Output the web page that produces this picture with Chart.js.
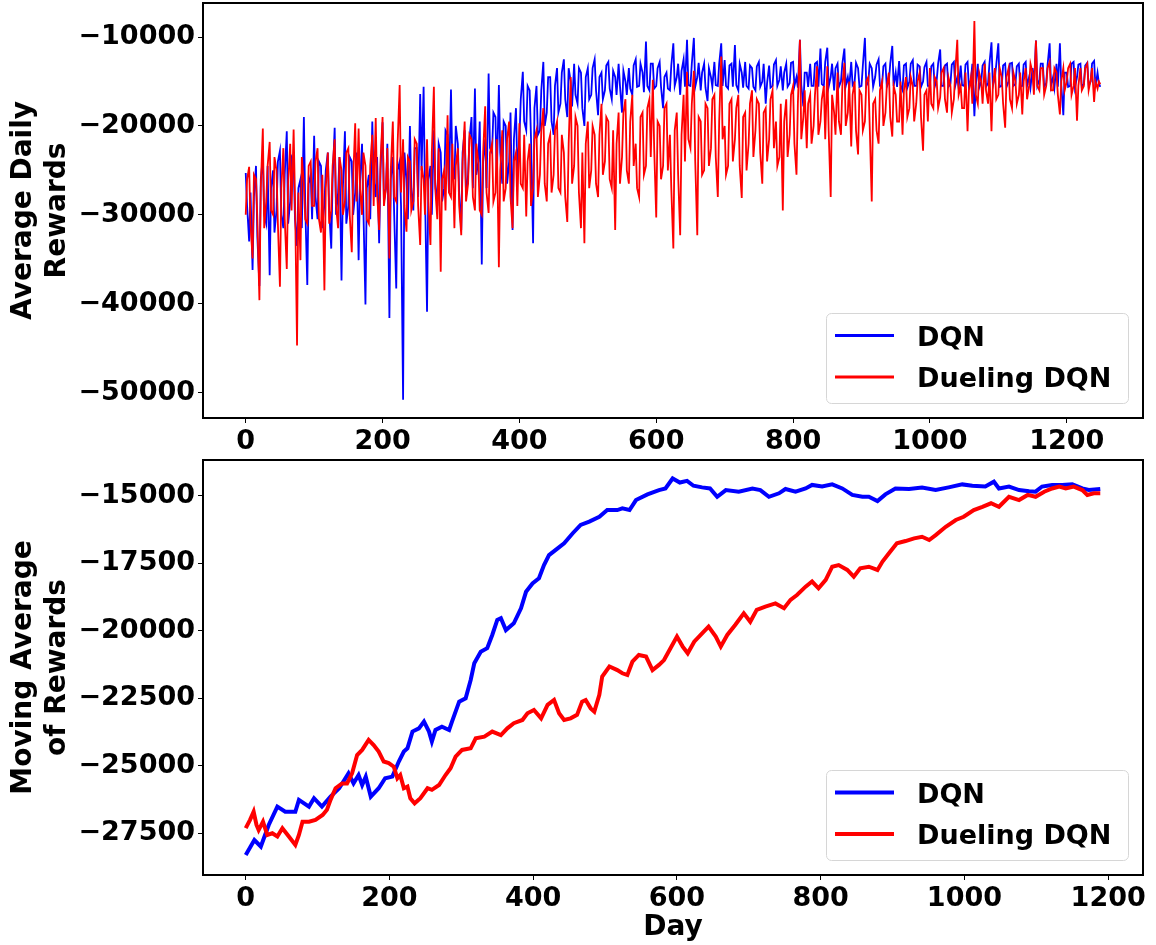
<!DOCTYPE html>
<html>
<head>
<meta charset="utf-8">
<script src="https://cdn.jsdelivr.net/npm/chart.js@4.4.1/dist/chart.umd.min.js"></script>
<style>
    html, body { margin: 0; padding: 0; background: #ffffff; }
    #wrap { position: relative; width: 1156px; height: 945px; }
    #topCanvas { position: absolute; left: 0; top: 0; }
    #bottomCanvas { position: absolute; left: 0; top: 455px; }
</style>
</head>
<body>
<div id="wrap">
    <canvas id="topCanvas" width="1156" height="455"></canvas>
    <canvas id="bottomCanvas" width="1156" height="490"></canvas>
</div>
<script>
    // ---- data ----

    // top panel: daily rewards, sampled every 2-3 days (+ last day)
    const topDays = Array.from({ length: 500 }, (_, i) => Math.floor(i * 2.5)).concat([1249]);

    const dqnDaily = [
        -25300, -29000, -33000, -27500, -36200, -28000, -24500, -32500, -38000, -26000, -23500, -30000, -31000, -24500, -36800, -27000, -25000, -32000, -29500, -24000,
        -22800, -30000, -31500, -25500, -20600, -31000, -28500, -23500, -24000, -30500, -33500, -27000, -26000, -31500, -19000, -29000, -37900, -26500, -25500, -30500,
        -21100, -28000, -30500, -24000, -24500, -31500, -28800, -25000, -23000, -29500, -33800, -26000, -20200, -30000, -27500, -23500, -37400, -27000, -20600, -31000,
        -29000, -23500, -24000, -30000, -27500, -23000, -35100, -26500, -22000, -29500, -40100, -27000, -25500, -30500, -19500, -26000, -28000, -23500, -33200, -25000,
        -19600, -28500, -27000, -22000, -41600, -26000, -23500, -30000, -38300, -25000, -24000, -29000, -50800, -23000, -26000, -30500, -20000, -27000, -29500, -22500,
        -22500, -28000, -16400, -25000, -15600, -27500, -40900, -26000, -24500, -30000, -20500, -26500, -29000, -22000, -23000, -28500, -27000, -20500, -21000, -27500,
        -15900, -24500, -26000, -20000, -22000, -27500, -31700, -23000, -20500, -28000, -25500, -21500, -19000, -27000, -15800, -25500, -24000, -19500, -35600, -24000,
        -21500, -27000, -14100, -22500, -23000, -18500, -19000, -26000, -15400, -23000, -26500, -19500, -20000, -26500, -24000, -18500, -31700, -21500, -18000, -25000,
        -21500, -17000, -13900, -19500, -20500, -15500, -16000, -21500, -33200, -18000, -15500, -21000, -20500, -16000, -12800, -20000, -18500, -14500, -14500, -19500,
        -21000, -15500, -13500, -18500, -17500, -14000, -12500, -17000, -19000, -13500, -15000, -17800, -13000, -16500, -17500, -13500, -14000, -18000, -20000, -14500,
        -13500, -17000, -16500, -13500, -12500, -16000, -18800, -14500, -14000, -17000, -16000, -13200, -12800, -15800, -17000, -13800, -14500, -16500, -13000, -15500,
        -18500, -13800, -15000, -16500, -13500, -15800, -16500, -13200, -12500, -15600, -15500, -13000, -14000, -16200, -10500, -15500, -16000, -13000, -13000, -15800,
        -15500, -13500, -12800, -15600, -18000, -14500, -14000, -15800, -16000, -13200, -10700, -15500, -14500, -13000, -16500, -13800, -12500, -15600, -10300, -15400,
        -15500, -13000, -10100, -15600, -14500, -12900, -16000, -14000, -13000, -15700, -17200, -13500, -14500, -15600, -12800, -15400, -15500, -13000, -10700, -15500,
        -12600, -15500, -15800, -13200, -13000, -15600, -10900, -15400, -16000, -13000, -14000, -15700, -12800, -15500, -15800, -13200, -13500, -15600, -16000, -13300,
        -12800, -15600, -15000, -13000, -17500, -15200, -13200, -15700, -15500, -13100, -12600, -15500, -14800, -13300, -16000, -14000, -13000, -15600, -15200, -12900,
        -12800, -15500, -14500, -15700, -10300, -15400, -17800, -14000, -14000, -15600, -13000, -15500, -15500, -13000, -12800, -15600, -11300, -15300, -15500, -12800,
        -11200, -15600, -14500, -13000, -16000, -13500, -13000, -15600, -15000, -13000, -11300, -15500, -14500, -15700, -12800, -15400, -15000, -12900, -13500, -15600,
        -15500, -13200, -10100, -15500, -15000, -13000, -13500, -15600, -14500, -13100, -12500, -15500, -15500, -13300, -13000, -15600, -15000, -13000, -11000, -15500,
        -14000, -15600, -12700, -15400, -16000, -13200, -13000, -15700, -15000, -13000, -12600, -15500, -15500, -13100, -13300, -15600, -15000, -13400, -12800, -15500,
        -15500, -13300, -13000, -15600, -14800, -13000, -11400, -15500, -15500, -13200, -13000, -15600, -15300, -13100, -12800, -15500, -14500, -15700, -13200, -15400,
        -15500, -13100, -12800, -15600, -14800, -13000, -18900, -15500, -13000, -15700, -15000, -13200, -12800, -15600, -15200, -13000, -10600, -15500, -14500, -13100,
        -10700, -15600, -15500, -13200, -13000, -15600, -15000, -13000, -12900, -15500, -15300, -13300, -13000, -15600, -15500, -13100, -12800, -15500, -14500, -15700,
        -13500, -15600, -10400, -15500, -14800, -13000, -13000, -15600, -15200, -13100, -10700, -15500, -14500, -15700, -13000, -15600, -10700, -15400, -18800, -14000,
        -14000, -15600, -15500, -13000, -12800, -15700, -14500, -13100, -13000, -15600, -15300, -13200, -12900, -15500, -15000, -13000, -12700, -15600, -14000, -15200,
        -15600
    ];

    const duelingDaily = [
        -30000, -26000, -24600, -31000, -34900, -25500, -26000, -30500, -39600, -27000, -20300, -31500, -28500, -24500, -21800, -29500, -30000, -23500, -25000, -31000,
        -38100, -27000, -22500, -30500, -36100, -26500, -22000, -29500, -20400, -28000, -44700, -27500, -35100, -23500, -26500, -30500, -31000, -24500, -24000, -29000,
        -29000, -24000, -22500, -30500, -32000, -25500, -38500, -27000, -23000, -31000, -29500, -24500, -21500, -29000, -31500, -23500, -25000, -30000, -28500, -23000,
        -22500, -30000, -34200, -26000, -19700, -28500, -20300, -27000, -30000, -23000, -24500, -30500, -31000, -24500, -21000, -29000, -19100, -27500, -31700, -24000,
        -19000, -29000, -27000, -22500, -34900, -25000, -19500, -28000, -28500, -22000, -15400, -27500, -21500, -29000, -31900, -23500, -24000, -29500, -28500, -21500,
        -22000, -29000, -33400, -24500, -26000, -30000, -21500, -28500, -33400, -23000, -15600, -27000, -30500, -22500, -36400, -26000, -25000, -29500, -18800, -27500,
        -28000, -22000, -31500, -24500, -22500, -29000, -32300, -24000, -19500, -28500, -26500, -21000, -21500, -28000, -29500, -22000, -24000, -29500, -30000, -23000,
        -17800, -27500, -29800, -23000, -22000, -28500, -27500, -21500, -35900, -25000, -20500, -28500, -27000, -21500, -19500, -28000, -31500, -24000, -23000, -29000,
        -19700, -26500, -27000, -21000, -30200, -24000, -22000, -29000, -27000, -21500, -20500, -28000, -25500, -20500, -18000, -26500, -28500, -22000, -21000, -27500,
        -25500, -20500, -19500, -27000, -27500, -21000, -23000, -28000, -30800, -22000, -14500, -26500, -24500, -19000, -20000, -27500, -31500, -23000, -33200, -22000,
        -19500, -27000, -25000, -20000, -21000, -26500, -28000, -21000, -17500, -25500, -24000, -19000, -19500, -26000, -27000, -20500, -31700, -22000, -18500, -26500,
        -23500, -18500, -17000, -25000, -26500, -19500, -16500, -24500, -22000, -27000, -28000, -19000, -18500, -25500, -24500, -18000, -17000, -23500, -14800, -22500,
        -30300, -19500, -20000, -26000, -24500, -18000, -17500, -25000, -21000, -27000, -33800, -20500, -18500, -25500, -32300, -21000, -16500, -24000, -13900, -21500,
        -22500, -17500, -13800, -24000, -32300, -19000, -19500, -25500, -25000, -17500, -18000, -24500, -22500, -17000, -16500, -23500, -28000, -19500, -12200, -21500,
        -20000, -25500, -24500, -17500, -17000, -24000, -21500, -18000, -16500, -24500, -28100, -19000, -18500, -25000, -22000, -17500, -16000, -23500, -20500, -17000,
        -17500, -23000, -26500, -18500, -18000, -24000, -21500, -17000, -16000, -22500, -19500, -24500, -23500, -17500, -29500, -19500, -17000, -23500, -21000, -16500,
        -15500, -22000, -25500, -17500, -10300, -21500, -19000, -16000, -22500, -17500, -16500, -22000, -20000, -16500, -13300, -21000, -19500, -17000, -15500, -21500,
        -13300, -20500, -28000, -16500, -18500, -21000, -14000, -19500, -21000, -15500, -12900, -20000, -18500, -15000, -22300, -16500, -15000, -20500, -23200, -16000,
        -16500, -20500, -19500, -15000, -14500, -20000, -28500, -17500, -17000, -20500, -22000, -16000, -15000, -20000, -18500, -15500, -14000, -19000, -21200, -15500,
        -16500, -19500, -19500, -15000, -21000, -16000, -14500, -19000, -18000, -14500, -15500, -19500, -17500, -15000, -14000, -19000, -22800, -16500, -16000, -19500,
        -13500, -17500, -18000, -14500, -15000, -18000, -16800, -14000, -13500, -17000, -18500, -14500, -15500, -18500, -17000, -14000, -10300, -16500, -15500, -18000,
        -18000, -14000, -20600, -16000, -14500, -17500, -8200, -16500, -17500, -14000, -15000, -17500, -13000, -16000, -17500, -14000, -20600, -15500, -13500, -17000,
        -16500, -13500, -14500, -17500, -20200, -14500, -13500, -17000, -18000, -14000, -15000, -17500, -16500, -14000, -18700, -15000, -13500, -17000, -15500, -13000,
        -14000, -16500, -10400, -15500, -16000, -13500, -13500, -16500, -15500, -13500, -12800, -16000, -16000, -13500, -14000, -16500, -18700, -15000, -13500, -16000,
        -15000, -13500, -13000, -16500, -15500, -13500, -19400, -15500, -13500, -16000, -15500, -13500, -13000, -16000, -14800, -13500, -17300, -15000, -15800, -15000,
        -15300
    ];

    // bottom panel: moving average of rewards
    const dqnAvgDays = [
        0, 12, 21, 32, 44, 55, 69, 74, 88, 95, 106, 118, 130, 143, 150, 157, 162, 167, 174, 185,
        194, 204, 213, 220, 225, 232, 241, 248, 255, 259, 264, 273, 283, 287, 297, 306, 313, 318, 327, 336,
        343, 350, 355, 362, 373, 383, 390, 399, 408, 415, 422, 434, 443, 455, 466, 478, 492, 503, 517, 524,
        534, 543, 559, 575, 584, 594, 604, 614, 623, 635, 646, 656, 668, 686, 705, 716, 728, 742, 751, 765,
        779, 788, 802, 816, 830, 844, 858, 867, 879, 890, 904, 923, 941, 960, 978, 997, 1011, 1029, 1041, 1048,
        1062, 1076, 1090, 1099, 1108, 1122, 1136, 1150, 1164, 1173, 1189
    ];
    const dqnAvgValues = [
        -28300, -27750, -27990, -27190, -26510, -26700, -26700, -26260, -26510, -26200,
        -26510, -26140, -25830, -25280, -25650, -25340, -25710, -25400, -26140, -25830,
        -25460, -25400, -24840, -24470, -24350, -23730, -23610, -23360, -23730, -24100,
        -23670, -23550, -23670, -23360, -22620, -22500, -21820, -21200, -20770, -20640,
        -20150, -19590, -19530, -19970, -19720, -19160, -18550, -18240, -18050, -17560,
        -17190, -16940, -16750, -16380, -16070, -15950, -15770, -15520, -15520, -15460,
        -15520, -15150, -14940, -14780, -14720, -14350, -14500, -14440, -14620, -14680,
        -14720, -15030, -14780, -14840, -14720, -14780, -15030, -14900, -14740, -14840,
        -14720, -14590, -14650, -14570, -14720, -14960, -15030, -15030, -15190, -14940,
        -14720, -14740, -14690, -14780, -14680, -14570, -14620, -14650, -14470, -14720,
        -14650, -14780, -14820, -14840, -14650, -14590, -14590, -14570, -14720, -14780,
        -14740
    ];

    const duelingAvgDays = [
        0, 6, 11, 15, 18, 24, 30, 37, 44, 51, 60, 69, 74, 79, 88, 97, 107, 113, 118, 125,
        134, 141, 148, 155, 162, 171, 178, 185, 192, 199, 206, 211, 215, 220, 225, 229, 235, 243, 253, 259,
        269, 278, 285, 292, 301, 313, 320, 332, 343, 355, 364, 373, 385, 392, 401, 411, 420, 429, 436, 443,
        452, 461, 468, 473, 480, 485, 492, 496, 506, 517, 524, 531, 538, 547, 557, 566, 575, 582, 591, 600,
        608, 615, 624, 635, 644, 654, 661, 670, 681, 693, 702, 711, 723, 737, 749, 758, 767, 779, 788, 797,
        807, 816, 825, 837, 846, 855, 867, 879, 886, 895, 906, 918, 930, 941, 951, 960, 974, 988, 999, 1013,
        1025, 1037, 1048, 1062, 1076, 1088, 1099, 1111, 1122, 1132, 1141, 1152, 1164, 1171, 1180, 1189
    ];
    const duelingAvgValues = [
        -27310, -27000, -26700, -27190, -27380, -27070, -27560, -27500, -27620, -27310,
        -27620, -27930, -27560, -27070, -27070, -27000, -26820, -26630, -26260, -25830,
        -25650, -25650, -25280, -24600, -24410, -24040, -24230, -24470, -24840, -24900,
        -25030, -25460, -25340, -25830, -25770, -26200, -26390, -26200, -25830, -25890,
        -25710, -25340, -25090, -24660, -24410, -24350, -23980, -23920, -23730, -23860,
        -23610, -23420, -23300, -23050, -22930, -23240, -22740, -22560, -23050, -23300,
        -23240, -23110, -22620, -22560, -22870, -22990, -22370, -21690, -21320, -21450,
        -21570, -21630, -21140, -20890, -20950, -21450, -21260, -21080, -20640, -20210,
        -20580, -20830, -20400, -20090, -19840, -20210, -20580, -20150, -19780, -19350,
        -19660, -19220, -19100, -18980, -19160, -18850, -18670, -18360, -18170, -18420,
        -18110, -17620, -17560, -17740, -17990, -17680, -17620, -17740, -17430, -17120,
        -16750, -16670, -16570, -16510, -16630, -16450, -16140, -15890, -15770, -15520,
        -15400, -15270, -15400, -15030, -15150, -14960, -15030, -14840, -14720, -14650,
        -14720, -14650, -14780, -14960, -14900, -14900
    ];

    // ticks
    const dayTicks = [0, 200, 400, 600, 800, 1000, 1200];
    const dailyTicks = [-50000, -40000, -30000, -20000, -10000];
    const avgTicks = [-27500, -25000, -22500, -20000, -17500, -15000];

    const seriesNames = ["DQN", "Dueling DQN"];
    const seriesColors = ["#0000ff", "#ff0000"];

    // ---- helpers ----
    const FONT_FAMILY = "'DejaVu Sans', 'Liberation Sans', sans-serif";

    function toPoints(aX, aY) {
        return aX.map((x, i) => ({ x: x, y: aY[i] }));
    }

    // matplotlib-style minus sign
    function fmtTick(value) {
        return value < 0 ? "\u2212" + Math.abs(value) : String(value);
    }

    // frame around the axes (all four spines)
    const framePlugin = {
        id: "frame",
        afterDatasetsDraw: function (chart) {
            const a = chart.chartArea;
            const ctx = chart.ctx;
            ctx.save();
            ctx.strokeStyle = "#000000";
            ctx.lineWidth = 2;
            ctx.strokeRect(a.left, a.top, a.right - a.left, a.bottom - a.top);
            ctx.restore();
        }
    };

    // legend box in the lower right corner of the axes
    const boxLegendPlugin = {
        id: "boxLegend",
        afterDraw: function (chart, args, opts) {
            const a = chart.chartArea;
            const ctx = chart.ctx;
            const w = 302, h = 90;
            const left = a.right - 15 - w;
            const top = a.bottom - 15 - h;

            ctx.save();
            ctx.beginPath();
            ctx.roundRect(left + 0.5, top + 0.5, w, h, 5);
            ctx.fillStyle = "rgba(255,255,255,0.8)";
            ctx.fill();
            ctx.strokeStyle = "#d6d6d6";
            ctx.lineWidth = 1;
            ctx.stroke();

            let aRows = [22.5, 64];
            seriesNames.forEach(function (sName, i) {
                let y = top + aRows[i];
                ctx.beginPath();
                ctx.moveTo(left + 9, y);
                ctx.lineTo(left + 68, y);
                ctx.strokeStyle = seriesColors[i];
                ctx.lineWidth = opts.lineWidth;
                ctx.stroke();

                ctx.fillStyle = "#000000";
                ctx.font = "bold 27px " + FONT_FAMILY;
                ctx.textAlign = "left";
                ctx.textBaseline = "alphabetic";
                ctx.fillText(sName, left + 91, y + 10);
            });
            ctx.restore();
        }
    };

    function makeScales(oCfg) {
        const tickFont = { family: FONT_FAMILY, size: 27, weight: "bold" };
        const titleFont = { family: FONT_FAMILY, size: 28, weight: "bold" };
        return {
            x: {
                type: "linear",
                position: "bottom",
                min: oCfg.xMin,
                max: oCfg.xMax,
                afterBuildTicks: function (scale) {
                    scale.ticks = dayTicks.map(v => ({ value: v }));
                },
                afterFit: function (scale) {
                    scale.height = oCfg.xHeight;
                    scale.paddingLeft = 0;
                    scale.paddingRight = 0;
                },
                ticks: {
                    font: tickFont,
                    color: "#000000",
                    padding: 3,
                    maxRotation: 0,
                    autoSkip: false,
                    callback: fmtTick
                },
                grid: {
                    display: true,
                    drawOnChartArea: false,
                    drawTicks: true,
                    tickLength: 5,
                    color: "#000000",
                    lineWidth: 1
                },
                border: { display: true, color: "#000000", width: 2 },
                title: {
                    display: !!oCfg.xTitle,
                    text: oCfg.xTitle || "",
                    font: titleFont,
                    color: "#000000",
                    padding: { top: 0, bottom: 0 }
                }
            },
            y: {
                type: "linear",
                position: "left",
                min: oCfg.yMin,
                max: oCfg.yMax,
                afterBuildTicks: function (scale) {
                    scale.ticks = oCfg.yTicks.map(v => ({ value: v }));
                },
                afterFit: function (scale) {
                    scale.width = 203;
                    scale.paddingTop = 0;
                    scale.paddingBottom = 0;
                },
                ticks: {
                    font: tickFont,
                    color: "#000000",
                    padding: 3,
                    autoSkip: false,
                    callback: fmtTick
                },
                grid: {
                    display: true,
                    drawOnChartArea: false,
                    drawTicks: true,
                    tickLength: 5,
                    color: "#000000",
                    lineWidth: 1
                },
                border: { display: true, color: "#000000", width: 2 },
                title: {
                    display: true,
                    text: oCfg.yTitle,
                    font: titleFont,
                    color: "#000000",
                    padding: { top: 7, bottom: 0 }
                }
            }
        };
    }

    function makeChart(sCanvasId, aDatasets, oCfg) {
        const ctx = document.getElementById(sCanvasId).getContext("2d");
        return new Chart(ctx, {
            type: "line",
            data: { datasets: aDatasets },
            options: {
                responsive: false,
                animation: false,
                devicePixelRatio: 1,
                layout: { padding: { left: 0, top: oCfg.padTop, right: 13, bottom: 0 } },
                elements: { point: { radius: 0 }, line: { tension: 0 } },
                plugins: {
                    legend: { display: false },
                    tooltip: { enabled: false },
                    boxLegend: { lineWidth: oCfg.legendLine }
                },
                scales: makeScales(oCfg)
            },
            plugins: [framePlugin, boxLegendPlugin]
        });
    }

    // ---- top: average daily rewards ----
    makeChart("topCanvas", [
        {
            label: seriesNames[0],
            data: toPoints(topDays, dqnDaily),
            borderColor: seriesColors[0],
            borderWidth: 1.8,
            order: 1
        },
        {
            label: seriesNames[1],
            data: toPoints(topDays, duelingDaily),
            borderColor: seriesColors[1],
            borderWidth: 1.8,
            order: 0
        }
    ], {
        xMin: -62.45, xMax: 1311.45,
        yMin: -52860, yMax: -6170,
        yTicks: dailyTicks,
        yTitle: ["Average Daily", "Rewards"],
        xTitle: null,
        xHeight: 37,
        padTop: 3,
        legendLine: 3
    });

    // ---- bottom: moving average ----
    makeChart("bottomCanvas", [
        {
            label: seriesNames[0],
            data: toPoints(dqnAvgDays, dqnAvgValues),
            borderColor: seriesColors[0],
            borderWidth: 4,
            order: 1
        },
        {
            label: seriesNames[1],
            data: toPoints(duelingAvgDays, duelingAvgValues),
            borderColor: seriesColors[1],
            borderWidth: 4,
            order: 0
        }
    ], {
        xMin: -59.45, xMax: 1248.45,
        yMin: -29045, yMax: -13666,
        yTicks: avgTicks,
        yTitle: ["Moving Average", "of Rewards"],
        xTitle: "Day",
        xHeight: 70,
        padTop: 5,
        legendLine: 4
    });
</script>
</body>
</html>
